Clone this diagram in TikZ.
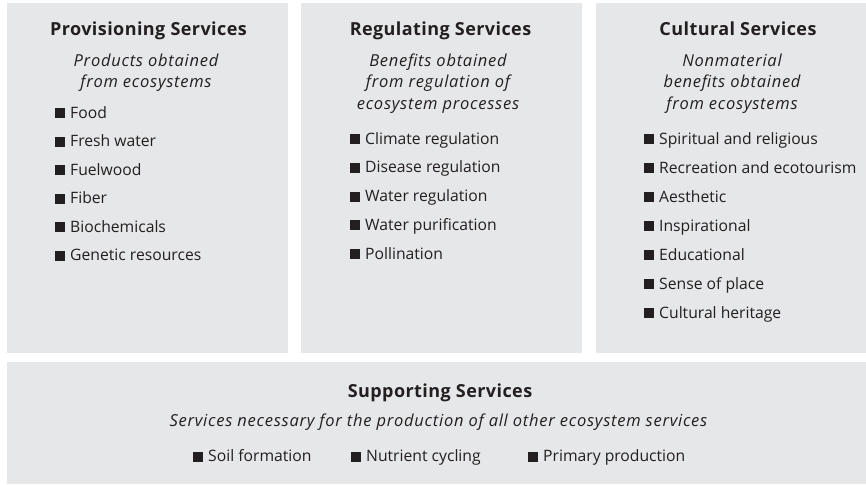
\documentclass[tikz,border=0pt]{standalone}
\usepackage{fontspec}
\setmainfont{Open Sans}
\newfontfamily\subfam{Open Sans}[LetterSpace=4.5]
\newfontfamily\ttlfam{Open Sans}[LetterSpace=2.4]
\definecolor{panelgray}{HTML}{E6E7E8}
\definecolor{ink}{HTML}{231F20}
\tikzset{
  panel/.style={fill=panelgray, draw=none, inner sep=0pt, outer sep=0pt, anchor=north west},
  ttl/.style={font=\ttlfam\fontsize{18}{21}\selectfont\bfseries, text=ink, inner sep=0pt, anchor=base},
  sub/.style={font=\subfam\fontsize{16.5}{21.5}\selectfont\itshape, text=ink, inner sep=0pt, align=center, anchor=base},
  item/.style={font=\fontsize{15.7}{18}\selectfont, text=ink, inner sep=0pt, anchor=base west},
}
\newcommand{\bul}{\textcolor{ink}{\rule{10pt}{10pt}}\hspace{5pt}}
\begin{document}
\begin{tikzpicture}[x=1pt,y=-1pt]
\useasboundingbox (0,0) rectangle (866,484);
% panels
\node[panel, minimum width=281pt, minimum height=349.5pt] (prov) at (7,3) {};
\node[panel, minimum width=281pt, minimum height=349.5pt] (reg) at (301,3) {};
\node[panel, minimum width=270pt, minimum height=349.5pt] (cult) at (596,3) {};
\node[panel, minimum width=859pt, minimum height=122pt] (supp) at (7,362) {};
% titles
\node[ttl] (provT) at (148.5,36) {Provisioning Services};
\node[ttl] (regT) at (440.5,36) {Regulating Services};
\node[ttl] (cultT) at (738,36) {Cultural Services};
\node[ttl] (suppT) at (440,397.5) {Supporting Services};
% subtitles (base anchor = baseline of last line)
\node[sub] (provS) at (146,88) {Products obtained\\from ecosystems};
\node[sub] (regS) at (438,109.5) {Benefits obtained\\from regulation of\\ecosystem processes};
\node[sub] (cultS) at (732,109.5) {Nonmaterial\\benefits obtained\\from ecosystems};
\node[sub] (suppS) at (438.5,426) {Services necessary for the production of all other ecosystem services};
% items
\foreach \t [count=\i] in {Food,Fresh water,Fuelwood,Fiber,Biochemicals,Genetic resources}
  \node[item] (p\i) at (55,{118+(\i-1)*28.5}) {\bul\t};
\foreach \t [count=\i] in {Climate regulation,Disease regulation,Water regulation,Water purification,Pollination}
  \node[item] (r\i) at (350,{144+(\i-1)*28.75}) {\bul\t};
\foreach \t [count=\i] in {Spiritual and religious,Recreation and ecotourism,Aesthetic,Inspirational,Educational,Sense of place,Cultural heritage}
  \node[item] (c\i) at (644,{144+(\i-1)*29}) {\bul\t};
\node[item] (s1) at (193,461.5) {\bul Soil formation};
\node[item] (s2) at (351,461.5) {\bul Nutrient cycling};
\node[item] (s3) at (528,461.5) {\bul Primary production};
\end{tikzpicture}
\end{document}
